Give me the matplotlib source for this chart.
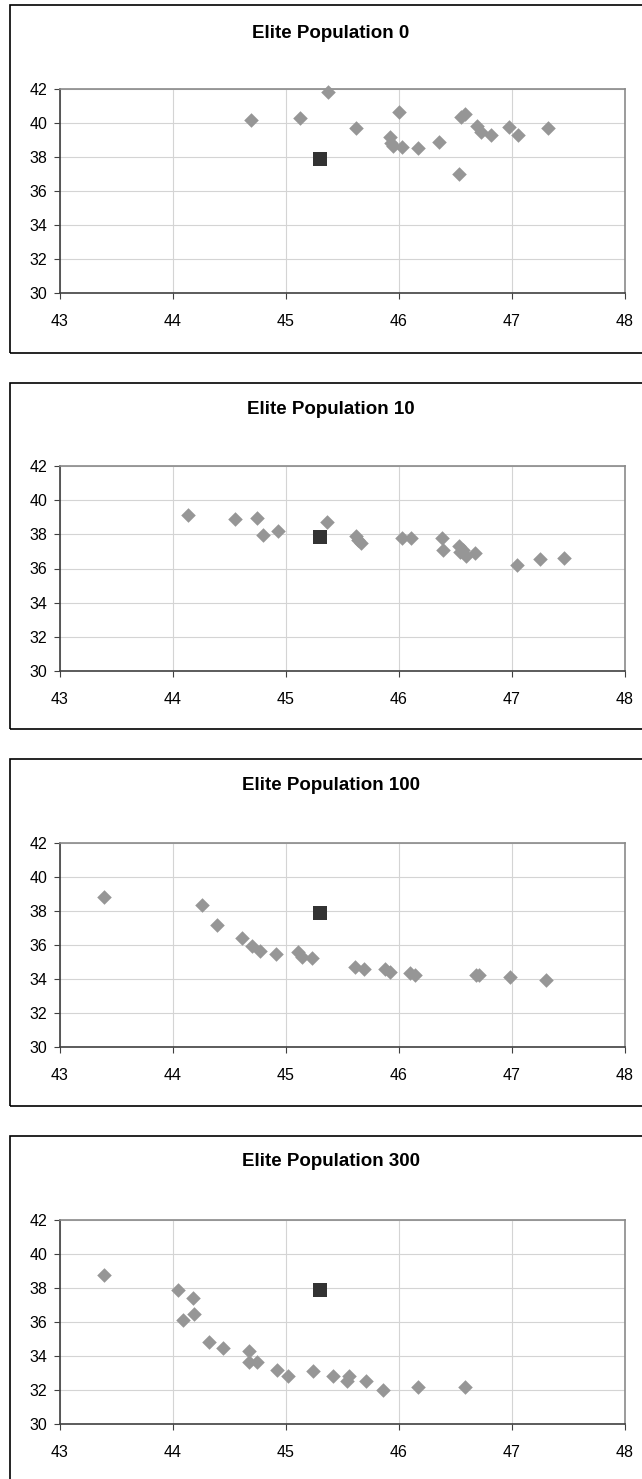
import numpy as np
import matplotlib.pyplot as plt
from matplotlib.patches import Rectangle

plt.rcParams['font.family'] = ['Liberation Sans', 'DejaVu Sans']

# reference point (black square), same in every panel
ref_x = [45.30]
ref_y = [37.87]

titles = ["Elite Population 0", "Elite Population 10",
          "Elite Population 100", "Elite Population 300"]

x0 = [44.69, 45.12, 45.37, 45.62, 46.00, 45.92, 45.93, 45.95, 46.03, 46.17,
      46.35, 46.53, 46.55, 46.58, 46.69, 46.73, 46.81, 46.97, 47.05, 47.32]
y0 = [40.20, 40.30, 41.80, 39.68, 40.63, 39.20, 38.84, 38.64, 38.60, 38.55,
      38.90, 36.98, 40.34, 40.54, 39.81, 39.46, 39.27, 39.76, 39.27, 39.68]

x10 = [44.13, 44.55, 44.74, 44.80, 44.93, 45.36, 45.62, 45.64, 45.66, 46.03,
       46.11, 46.38, 46.39, 46.53, 46.54, 46.57, 46.59, 46.67, 47.04, 47.25, 47.46]
y10 = [39.15, 38.87, 38.98, 37.99, 38.22, 38.70, 37.88, 37.64, 37.47, 37.80,
       37.76, 37.80, 37.06, 37.29, 36.98, 37.10, 36.72, 36.88, 36.18, 36.56, 36.61]

x100 = [43.39, 44.26, 44.39, 44.61, 44.70, 44.77, 44.91, 45.11, 45.14, 45.23,
        45.61, 45.69, 45.88, 45.92, 46.10, 46.14, 46.68, 46.71, 46.98, 47.30]
y100 = [38.82, 38.33, 37.19, 36.42, 35.95, 35.66, 35.48, 35.56, 35.30, 35.24,
        34.73, 34.61, 34.61, 34.43, 34.34, 34.24, 34.26, 34.22, 34.14, 33.97]

x300 = [43.39, 44.04, 44.18, 44.09, 44.19, 44.32, 44.44, 44.67, 44.67, 44.74,
        44.92, 45.02, 45.24, 45.42, 45.54, 45.56, 45.71, 45.86, 46.17, 46.58]
y300 = [38.79, 37.87, 37.40, 36.13, 36.48, 34.81, 34.48, 34.28, 33.65, 33.65,
        33.17, 32.84, 33.09, 32.82, 32.55, 32.84, 32.51, 31.98, 32.18, 32.18]

xs = [x0, x10, x100, x300]
ys = [y0, y10, y100, y300]

x_ticks = [43, 44, 45, 46, 47, 48]
y_ticks = [30, 32, 34, 36, 38, 40, 42]

W, H = 642, 1479
fig = plt.figure(figsize=(W / 100, H / 100), dpi=100)

# pixel layout of each panel: box top, box bottom, title y, plot top, plot bottom
boxes = [(5, 353, 34, 89, 293),
         (383, 729, 409, 466, 671),
         (759, 1106, 785, 843, 1047),
         (1136, 1500, 1162, 1220, 1424)]

for i in range(4):
    btop, bbot, ty, ptop, pbot = boxes[i]
    fig.patches.append(Rectangle((10 / W, 1 - bbot / H), 1.2, (bbot - btop) / H,
                                 transform=fig.transFigure, fill=False,
                                 edgecolor='black', linewidth=1.2, zorder=0))
    fig.text(331 / W, 1 - ty / H, titles[i], ha='center', va='center',
             fontsize=13.5, fontweight='bold')

    ax = fig.add_axes([60 / W, 1 - pbot / H, (625 - 60) / W, (pbot - ptop) / H])
    ax.scatter(xs[i], ys[i], marker='D', s=55, color='#969696', linewidths=0,
               zorder=3, clip_on=False)
    ax.scatter(ref_x, ref_y, marker='s', s=95, color='#333333', linewidths=0, zorder=4)

    ax.set_xlim(43, 48)
    ax.set_ylim(30, 42)
    ax.set_xticks(x_ticks)
    ax.set_yticks(y_ticks)
    ax.grid(True, color='#d4d4d4', linewidth=0.8)
    ax.set_axisbelow(True)
    ax.tick_params(direction='out', length=4, width=0.8, color='#404040',
                   labelsize=11.5, pad=5)
    ax.tick_params(axis='x', pad=11)
    for side in ['top', 'right']:
        ax.spines[side].set_color('#8a8a8a')
        ax.spines[side].set_linewidth(1.2)
    for side in ['left', 'bottom']:
        ax.spines[side].set_color('#404040')
        ax.spines[side].set_linewidth(1.2)

fig.savefig('out.png', dpi=100)
